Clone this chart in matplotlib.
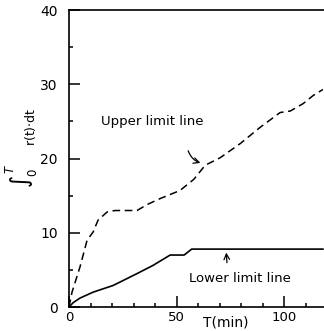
import matplotlib
matplotlib.use('Agg')
import matplotlib.pyplot as plt
from matplotlib.ticker import MultipleLocator

# upper limit line (dashed)
upper_t = [0, 1.4, 5.1, 8.4, 11.2, 13.5, 17.7, 21.4, 31.6, 36.3, 42.3, 51.6,
           58, 63.3, 70.2, 79.5, 88.8, 98.1, 102.8, 108.8, 113.5, 118]
upper_v = [0, 2.0, 5.4, 9.0, 10.1, 11.7, 12.8, 13.0, 13.0, 13.8, 14.6, 15.7,
           17.2, 19.1, 20.1, 22.0, 24.2, 26.2, 26.4, 27.4, 28.5, 29.3]

# lower limit line (solid)
lower_t = [0, 2, 5.1, 11.2, 20.5, 31.6, 39, 43, 47, 53.5, 57, 118]
lower_v = [0, 0.6, 1.2, 2.0, 2.9, 4.5, 5.6, 6.3, 7.0, 7.0, 7.8, 7.8]

fig = plt.figure(figsize=(3.24, 3.31), dpi=100)
ax = fig.add_axes([0.213, 0.0725, 0.787, 0.897])

ax.plot(upper_t, upper_v, color='black', linestyle=(0, (5, 3)), linewidth=1.1)
ax.plot(lower_t, lower_v, color='black', linewidth=1.2)

ax.set_xlim(0, 118.5)
ax.set_ylim(0, 40)
ax.spines['right'].set_visible(False)
for s in ['left', 'bottom', 'top']:
    ax.spines[s].set_linewidth(1.2)

ax.xaxis.set_major_locator(MultipleLocator(50))
ax.xaxis.set_minor_locator(MultipleLocator(10))
ax.yaxis.set_major_locator(MultipleLocator(10))
ax.yaxis.set_minor_locator(MultipleLocator(5))
ax.tick_params(which='major', direction='in', length=8, width=1.1, labelsize=10)
ax.tick_params(which='minor', direction='in', length=3, width=1.1)
ax.tick_params(axis='y', pad=8)
ax.tick_params(axis='x', pad=3, labelsize=9.5)
ax.tick_params(top=False, right=False, which='both')

ax.text(73, -2.15, 'T(min)', ha='center', va='center', fontsize=10)
fig.text(0.068, 0.468, r'$\int_0^T$', rotation=90, ha='center', va='center', fontsize=12)
fig.text(0.095, 0.616, r'r(t)$\cdot$dt', rotation=90, ha='center', va='center', fontsize=9)

ax.text(38.6, 25.0, 'Upper limit line', ha='center', va='center', fontsize=9.5)
ax.annotate('', xy=(62.3, 19.3), xytext=(55, 21.4),
            arrowprops=dict(arrowstyle='->', color='black', lw=0.9,
                            connectionstyle='arc3,rad=0.3'))
ax.text(79.5, 3.9, 'Lower limit line', ha='center', va='center', fontsize=9.5)
ax.annotate('', xy=(73, 7.7), xytext=(73.5, 5.6),
            arrowprops=dict(arrowstyle='->', color='black', lw=0.9))

fig.savefig('out.png', dpi=100)
